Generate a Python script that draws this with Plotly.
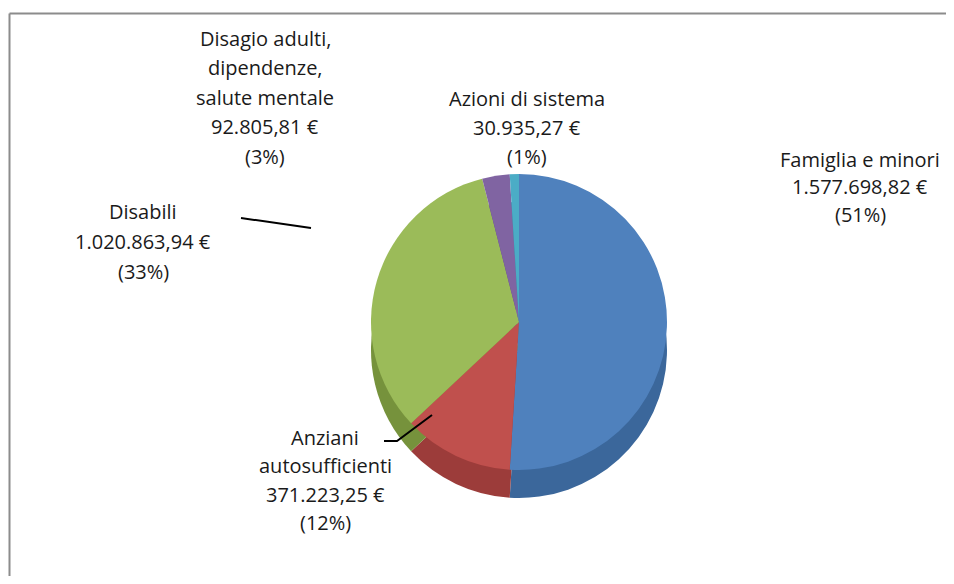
import plotly.graph_objects as go

# ---- data ----
categories = ["Famiglia e minori", "Anziani autosufficienti", "Disabili",
              "Disagio adulti, dipendenze, salute mentale", "Azioni di sistema"]
label_lines = [["Famiglia e minori"], ["Anziani", "autosufficienti"], ["Disabili"],
               ["Disagio adulti,", "dipendenze,", "salute mentale"], ["Azioni di sistema"]]
values = [1577698.82, 371223.25, 1020863.94, 92805.81, 30935.27]
colors = ["#4F81BD", "#C0504D", "#9BBB59", "#8064A2", "#4BACC6"]
side_colors = ["#3B679B", "#9C3C3A", "#76923C", "#5F4B7D", "#31869B"]

# page body has an 8px margin; figure is sized so the page fits the window
OFF = 8
W, H = 954 - 2 * OFF, 584 - 2 * OFF


def it_fmt(v):
    s = f"{v:,.2f}"
    return s.replace(",", "X").replace(".", ",").replace("X", ".")


total = sum(values)
label_rows = [lines + [f"{it_fmt(v)} €", f"({round(v / total * 100):d}%)"]
              for lines, v in zip(label_lines, values)]

# label anchor: centre x, first-line centre y, line step (window pixels)
label_pos = [(860, 159, 27.5), (325, 437, 28.5), (143, 212, 29.5),
             (265, 38, 29.5), (527, 98, 29.5)]


def px(x):
    return (x - OFF) / W


def py(y):
    return 1 - (y - OFF) / H


cx, cy, r = 519, 322, 148
depth = 28

fig = go.Figure()
# darker "side" layer to suggest depth
fig.add_trace(go.Pie(
    values=values, labels=categories, sort=False, direction="clockwise",
    rotation=0, textinfo="none", hoverinfo="skip", showlegend=False,
    marker=dict(colors=side_colors, line=dict(width=0)),
    domain=dict(x=[px(cx - r), px(cx + r)], y=[py(cy + depth + r), py(cy + depth - r)]),
))
fig.add_trace(go.Pie(
    values=values, labels=categories, sort=False, direction="clockwise",
    rotation=0, textinfo="none", showlegend=False,
    marker=dict(colors=colors, line=dict(width=0)),
    domain=dict(x=[px(cx - r), px(cx + r)], y=[py(cy + r), py(cy - r)]),
))

for rows, (x, y0, step) in zip(label_rows, label_pos):
    for i, t in enumerate(rows):
        fig.add_annotation(text=t, x=px(x), y=py(y0 + i * step), xref="paper", yref="paper",
                           xanchor="center", yanchor="middle", showarrow=False,
                           font=dict(family="Open Sans", size=20, color="#1a1a1a"))

# leader lines
fig.add_shape(type="line", xref="paper", yref="paper",
              x0=px(241), y0=py(218), x1=px(311), y1=py(228),
              line=dict(color="black", width=2))
fig.add_shape(type="path", xref="paper", yref="paper",
              path=f"M {px(384)} {py(441)} L {px(397)} {py(441)} L {px(432)} {py(415)}",
              line=dict(color="black", width=2))

# outer frame (only top and left edges fall inside the picture)
fig.add_shape(type="line", xref="paper", yref="paper",
              x0=px(9.5), y0=py(13.5), x1=1.0, y1=py(13.5),
              line=dict(color="#8c8c8c", width=2))
fig.add_shape(type="line", xref="paper", yref="paper",
              x0=px(9.5), y0=py(13.5), x1=px(9.5), y1=0.0,
              line=dict(color="#8c8c8c", width=2))

fig.update_layout(width=W, height=H, margin=dict(l=0, r=0, t=0, b=0),
                  paper_bgcolor="white", plot_bgcolor="white")
fig.write_html("out.html")
